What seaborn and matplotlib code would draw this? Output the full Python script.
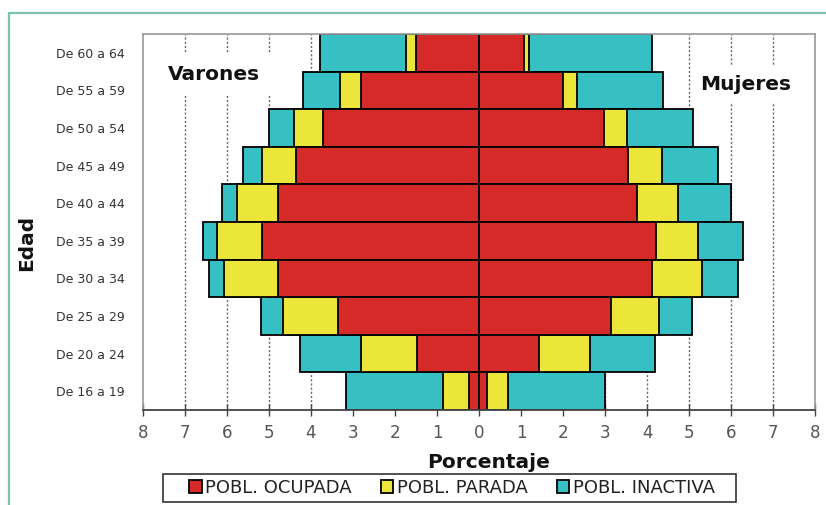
import matplotlib
matplotlib.use("Agg")
import matplotlib.pyplot as plt
import seaborn as sns
import pandas as pd
from matplotlib.lines import Line2D
from matplotlib.patches import Rectangle

sns.set_theme(style="white")
plt.rcParams['font.family'] = ['DejaVu Sans']

edades = ["De 60 a 64", "De 55 a 59", "De 50 a 54", "De 45 a 49", "De 40 a 44",
          "De 35 a 39", "De 30 a 34", "De 25 a 29", "De 20 a 24", "De 16 a 19"]

# Varones (porcentaje)
var_ocupada  = [1.50, 2.82, 3.72, 4.36, 4.78, 5.17, 4.78, 3.35, 1.48, 0.23]
var_parada   = [0.25, 0.49, 0.68, 0.81, 0.98, 1.07, 1.29, 1.31, 1.34, 0.63]
var_inactiva = [2.04, 0.87, 0.59, 0.46, 0.37, 0.33, 0.36, 0.53, 1.44, 2.31]

# Mujeres (porcentaje)
muj_ocupada  = [1.06, 2.00, 2.97, 3.55, 3.77, 4.21, 4.12, 3.15, 1.44, 0.20]
muj_parada   = [0.12, 0.33, 0.55, 0.80, 0.96, 1.00, 1.20, 1.14, 1.21, 0.50]
muj_inactiva = [2.93, 2.06, 1.58, 1.33, 1.27, 1.07, 0.84, 0.79, 1.53, 2.29]

series = ["POBL. OCUPADA", "POBL. PARADA", "POBL. INACTIVA"]
colores = ["#d62a28", "#ece63a", "#36c0c4"]
ticks = list(range(-8, 9))

df = pd.DataFrame({
    "edad": edades,
    "v1": var_ocupada, "v2": var_parada, "v3": var_inactiva,
    "m1": muj_ocupada, "m2": muj_parada, "m3": muj_inactiva,
})
# cumulative (stacked) extents; men negative
df["v_c1"] = -df["v1"]
df["v_c2"] = -(df["v1"] + df["v2"])
df["v_c3"] = -(df["v1"] + df["v2"] + df["v3"])
df["m_c1"] = df["m1"]
df["m_c2"] = df["m1"] + df["m2"]
df["m_c3"] = df["m1"] + df["m2"] + df["m3"]

fig = plt.figure(figsize=(8.26, 5.05), dpi=100)
ax = fig.add_axes([143/826, 1-410/505, 672/826, 376/505])

layers = [("c3", colores[2], series[2]), ("c2", colores[1], series[1]), ("c1", colores[0], series[0])]
for key, col, lab in layers:
    sns.barplot(data=df, x="v_" + key, y="edad", order=edades, orient="h",
                color=col, saturation=1, width=1.0, edgecolor="black", linewidth=1.3,
                errorbar=None, ax=ax, label=lab, zorder=2)
    sns.barplot(data=df, x="m_" + key, y="edad", order=edades, orient="h",
                color=col, saturation=1, width=1.0, edgecolor="black", linewidth=1.3,
                errorbar=None, ax=ax, zorder=2)

handles, labels = ax.get_legend_handles_labels()
if ax.get_legend() is not None:
    ax.get_legend().remove()

ax.set_xlim(-8, 8)
ax.set_ylim(len(edades) - 0.5, -0.5)
ax.set_xticks(ticks)
ax.set_xticklabels([str(abs(t)) for t in ticks], fontsize=12, color="#555555")
ax.tick_params(axis="x", direction="inout", length=8, width=1, color="#444444", pad=6, bottom=True)
ax.tick_params(axis="y", length=0, pad=13, labelsize=9, labelcolor="#333333")
ax.set_xlabel("")
ax.set_ylabel("")

for t in range(-7, 8):
    if t != 0:
        ax.axvline(t, color="#666666", linestyle=(0, (1.5, 1.5)), linewidth=1, zorder=0)

for s in ["left", "top", "right"]:
    ax.spines[s].set_color("#999999")
    ax.spines[s].set_linewidth(1.2)
ax.spines["bottom"].set_color("#444444")
ax.spines["bottom"].set_linewidth(1.3)

ax.text(-6.31, 0.59, "Varones", fontsize=14.5, fontweight="bold", ha="center", va="center",
        color="#111111", zorder=3,
        bbox=dict(facecolor="white", edgecolor="none", boxstyle="square,pad=0.55"))
ax.text(6.36, 0.83, "Mujeres", fontsize=14.5, fontweight="bold", ha="center", va="center",
        color="#111111", zorder=3,
        bbox=dict(facecolor="white", edgecolor="none", boxstyle="square,pad=0.4"))

fig.text(489/826, 1-462/505, "Porcentaje", fontsize=14.5, fontweight="bold",
         ha="center", va="center", color="#111111")
fig.text(27/826, 1-243/505, "Edad", fontsize=14.5, fontweight="bold", rotation=90,
         ha="center", va="center", color="#111111")

order = [labels.index(s) for s in series]
leg = fig.legend([handles[i] for i in order], [labels[i] for i in order],
                 loc="center", bbox_to_anchor=(452/826, 1-488/505), ncol=3,
                 frameon=False,
                 handlelength=0.7, handleheight=0.7, handletextpad=0.2,
                 columnspacing=1.6, borderpad=0.2,
                 prop={"size": 13})
for txt in leg.get_texts():
    txt.set_color("#222222")
fig.add_artist(Rectangle((163/826, 1-502/505), (736-163)/826, 28/505,
                         transform=fig.transFigure, facecolor="none",
                         edgecolor="#333333", linewidth=1.2))

border_col = "#7cc5a9"
fig.add_artist(Line2D([9/826, 9/826], [0, 1-13/505], color=border_col, linewidth=1.6,
                      transform=fig.transFigure))
fig.add_artist(Line2D([9/826, 1], [1-13/505, 1-13/505], color=border_col, linewidth=1.6,
                      transform=fig.transFigure))

fig.savefig("out.png", dpi=100)
